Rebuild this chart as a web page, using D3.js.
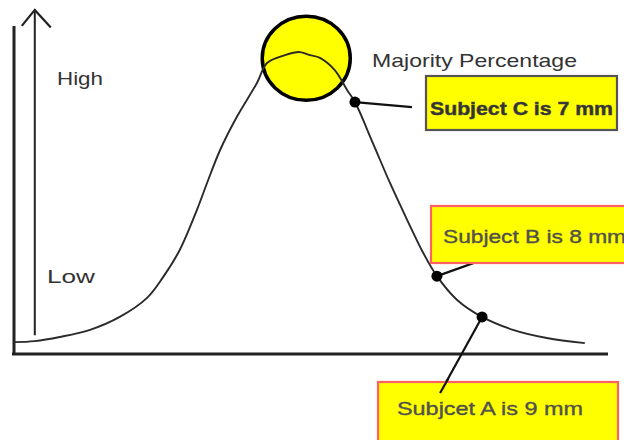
<!DOCTYPE html>
<html>
<head>
<meta charset="utf-8">
<script src="https://cdn.jsdelivr.net/npm/d3@7"></script>
<style>
  body { margin: 0; background: #fff; }
  svg { display: block; }
</style>
</head>
<body>
<div id="chart"></div>
<script>
// bell curve (x: 0-100 along the baseline, y: 0-100 height)
const curveX = [0, 3.5, 7.7, 12.8, 17.8, 22.4, 25.1, 27.9, 30.8, 32.5, 34.7, 37.5, 40.9, 42.6,
    45.6, 48.1, 49.8, 51.5, 54.0, 56.1, 57.4, 60.4, 63.3, 66.2, 68.9, 71.2, 74.6, 78.8, 84.0, 89.7, 96.1];
const curveY = [3.5, 3.8, 5.0, 7.1, 10.9, 16.5, 22.6, 30.6, 42.4, 50.3, 60.0, 69.7, 79.7, 85.6,
    87.9, 88.8, 87.9, 87.1, 83.5, 77.6, 74.1, 62.1, 50.3, 39.4, 29.7, 22.9, 15.9, 10.9, 7.1, 4.7, 3.2];

// the three subjects marked on the curve
const subjects = ["Subject C is 7 mm", "Subject B is 8 mm", "Subjcet A is 9 mm"];
const subjectX = [57.4, 71.2, 78.8];
const subjectY = [74.1, 22.9, 10.9];

const yLabels = ["High", "Low"];
const yLabelValues = [79, 21];
const peakLabel = "Majority Percentage";

const width = 624, height = 440;

const svg = d3.select("#chart")
    .append("svg")
    .attr("width", width)
    .attr("height", height);

const x = d3.scaleLinear().domain([0, 100]).range([14, 608]);
const y = d3.scaleLinear().domain([0, 100]).range([354, 14]);

const font = "'Liberation Sans', Arial, sans-serif";

// outer vertical axis + baseline
svg.append("line")
    .attr("x1", x(0)).attr("x2", x(0))
    .attr("y1", y(96.5)).attr("y2", y(0) + 1)
    .attr("stroke", "#222").attr("stroke-width", 3);

svg.append("line")
    .attr("x1", x(0) - 2).attr("x2", x(100))
    .attr("y1", y(0)).attr("y2", y(0))
    .attr("stroke", "#222").attr("stroke-width", 3);

// inner arrow axis
const ax = x(3.5);
svg.append("line")
    .attr("x1", ax).attr("x2", ax)
    .attr("y1", y(101)).attr("y2", y(5.5))
    .attr("stroke", "#222").attr("stroke-width", 2);

svg.append("path")
    .attr("d", `M${ax - 13},${y(96.5)} L${ax},${y(101.2)} L${ax + 16},${y(96)}`)
    .attr("fill", "none")
    .attr("stroke", "#222")
    .attr("stroke-width", 2.2);

// High / Low
svg.selectAll(".ylab")
    .data(yLabels)
    .enter()
    .append("text")
    .attr("class", "ylab")
    .attr("x", (d, i) => i === 0 ? 57 : 47)
    .attr("y", (d, i) => y(yLabelValues[i]))
    .attr("font-family", font)
    .attr("font-size", 19)
    .attr("fill", "#333")
    .attr("textLength", (d, i) => i === 0 ? 46 : 48)
    .attr("lengthAdjust", "spacingAndGlyphs")
    .text(d => d);

// yellow circle round the peak
svg.append("ellipse")
    .attr("cx", x(49.2))
    .attr("cy", y(87))
    .attr("rx", 44)
    .attr("ry", 42)
    .attr("fill", "#ffff00")
    .attr("stroke", "#000")
    .attr("stroke-width", 3.5);

// the curve
const pts = curveX.map((d, i) => [x(d), y(curveY[i])]);
svg.append("path")
    .attr("d", d3.line().curve(d3.curveCatmullRom.alpha(0.5))(pts))
    .attr("fill", "none")
    .attr("stroke", "#2a2a2a")
    .attr("stroke-width", 1.9);

svg.append("text")
    .attr("x", 372)
    .attr("y", 67)
    .attr("font-family", font)
    .attr("font-size", 19)
    .attr("fill", "#333")
    .attr("textLength", 205)
    .attr("lengthAdjust", "spacingAndGlyphs")
    .text(peakLabel);

// annotation boxes: [box x, box y, box w, box h, text x, text baseline, leader dx, leader dy, border]
const boxes = [
    [426, 76, 191, 54, 430, 115, 57, 5, "#555"],
    [431, 206, 200, 57, 443, 243, 70, -25, "#ff6060"],
    [378, 382, 240, 60, 397, 415, -42, 76, "#ff6060"]
];

boxes.forEach((b, i) => {
    const px = x(subjectX[i]), py = y(subjectY[i]);

    svg.append("path")
        .attr("d", `M${px},${py} L${px + b[6]},${py + b[7]}`)
        .attr("stroke", "#111")
        .attr("stroke-width", 2.2);

    svg.append("rect")
        .attr("x", b[0]).attr("y", b[1])
        .attr("width", b[2]).attr("height", b[3])
        .attr("fill", "#ffff00")
        .attr("stroke", b[8])
        .attr("stroke-width", 2.2);

    svg.append("text")
        .attr("x", b[4])
        .attr("y", b[5])
        .attr("font-family", font)
        .attr("font-size", 19)
        .attr("font-weight", i === 0 ? "bold" : "normal")
        .attr("fill", i === 0 ? "#333" : "#555")
        .attr("stroke", "#444")
        .attr("stroke-width", i === 0 ? 0.5 : 0.35)
        .attr("textLength", i === 2 ? 186 : 183)
        .attr("lengthAdjust", "spacingAndGlyphs")
        .text(subjects[i]);
});

// bit of leader line A that runs into box A
svg.append("line")
    .attr("x1", x(subjectX[2]) - 34).attr("y1", y(subjectY[2]) + 62)
    .attr("x2", x(subjectX[2]) - 42).attr("y2", y(subjectY[2]) + 76)
    .attr("stroke", "#111")
    .attr("stroke-width", 2.2);

// subject dots
svg.selectAll(".dot")
    .data(subjectX)
    .enter()
    .append("circle")
    .attr("class", "dot")
    .attr("cx", d => x(d))
    .attr("cy", (d, i) => y(subjectY[i]))
    .attr("r", 5.5)
    .attr("fill", "#000");
</script>
</body>
</html>
